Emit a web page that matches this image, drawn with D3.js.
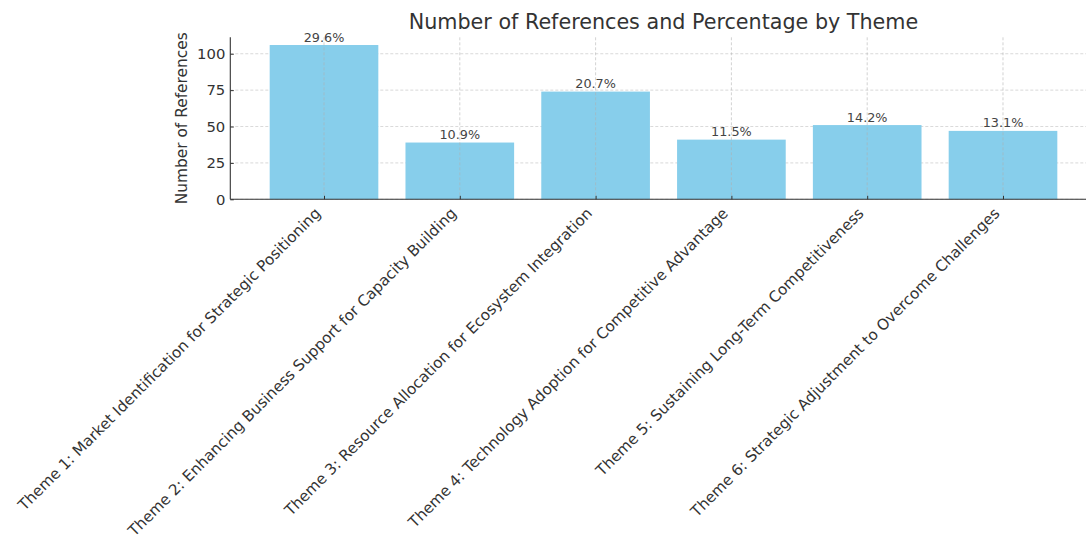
<!DOCTYPE html>
<html>
<head>
<meta charset="utf-8">
<script src="https://cdn.jsdelivr.net/npm/d3@7/dist/d3.min.js"></script>
<style>
  html, body { margin: 0; padding: 0; background: #fff; }
  svg { display: block; font-family: "DejaVu Sans", sans-serif; }
</style>
</head>
<body>
<svg id="chart" width="1086" height="541"></svg>
<script>
// Themes, counts of references, and their share of the total
const themes = [
  "Theme 1: Market Identification for Strategic Positioning",
  "Theme 2: Enhancing Business Support for Capacity Building",
  "Theme 3: Resource Allocation for Ecosystem Integration",
  "Theme 4: Technology Adoption for Competitive Advantage",
  "Theme 5: Sustaining Long-Term Competitiveness",
  "Theme 6: Strategic Adjustment to Overcome Challenges"
];
const references = [106, 39, 74, 41, 51, 47];
const percentLabels = ["29.6%", "10.9%", "20.7%", "11.5%", "14.2%", "13.1%"];
const yTicks = [0, 25, 50, 75, 100];

const svg = d3.select("#chart");
const plotLeft = 230.3, plotRight = 1096.7, plotTop = 37.3, plotBottom = 199.3;

const barWidth = 0.8;
const x = d3.scaleLinear().domain([-0.69, themes.length - 1 + 0.69]).range([plotLeft, plotRight]);
const y = d3.scaleLinear().domain([0, d3.max(references) * 1.05]).range([plotBottom, plotTop]);

// horizontal grid, behind the bars
svg.append("g").selectAll("line").data(yTicks).join("line")
  .attr("x1", plotLeft).attr("x2", plotRight)
  .attr("y1", d => y(d)).attr("y2", d => y(d))
  .attr("stroke", "#cfcfcf").attr("stroke-width", 0.8)
  .attr("stroke-dasharray", "3,2");

// bars
svg.append("g").selectAll("rect").data(references).join("rect")
  .attr("x", (d, i) => x(i - barWidth / 2))
  .attr("width", x(barWidth) - x(0))
  .attr("y", d => y(d))
  .attr("height", d => y(0) - y(d))
  .attr("fill", "#87CEEB");

// vertical grid, over the bars
svg.append("g").selectAll("line").data(themes).join("line")
  .attr("x1", (d, i) => x(i)).attr("x2", (d, i) => x(i))
  .attr("y1", plotTop).attr("y2", plotBottom)
  .attr("stroke", "#b0b0b0").attr("stroke-opacity", 0.7).attr("stroke-width", 0.8)
  .attr("stroke-dasharray", "3,2");

// percentage labels above bars
svg.append("g").selectAll("text").data(references).join("text")
  .attr("x", (d, i) => x(i))
  .attr("y", d => y(d) - 3.5)
  .attr("text-anchor", "middle")
  .attr("font-size", 12.8)
  .attr("fill", "#444")
  .text((d, i) => percentLabels[i]);

// y axis
const yAxis = d3.axisLeft(y).tickValues(yTicks).tickSize(-3.5).tickPadding(5);
const gy = svg.append("g").attr("transform", `translate(${plotLeft},0)`).call(yAxis);
gy.select(".domain").attr("d", `M0,${plotTop}V${plotBottom}`).attr("stroke", "#333").attr("stroke-width", 1.1);
gy.selectAll(".tick line").attr("stroke", "#333");
gy.selectAll(".tick text").attr("font-size", 14.8).attr("fill", "#333")
  .attr("font-family", "DejaVu Sans, sans-serif");

// x axis
const xAxis = d3.axisBottom(x).tickValues(d3.range(themes.length)).tickSize(-3.5).tickFormat("");
const gx = svg.append("g").attr("transform", `translate(0,${plotBottom})`).call(xAxis);
gx.select(".domain").attr("d", `M${plotLeft},0H${plotRight}`).attr("stroke", "#333").attr("stroke-width", 1.1);
gx.selectAll(".tick line").attr("stroke", "#333");

// rotated category labels
svg.append("g").selectAll("text").data(themes).join("text")
  .attr("transform", (d, i) => `translate(${x(i) - 2.5},${plotBottom + 15}) rotate(-45)`)
  .attr("text-anchor", "end")
  .attr("font-size", 15.2)
  .attr("fill", "#333")
  .text(d => d);

// y axis title
svg.append("text")
  .attr("transform", `translate(186.5,${(plotTop + plotBottom) / 2}) rotate(-90)`)
  .attr("text-anchor", "middle")
  .attr("font-size", 15.4)
  .attr("fill", "#333")
  .text("Number of References");

// chart title
svg.append("text")
  .attr("x", (plotLeft + plotRight) / 2)
  .attr("y", 29)
  .attr("text-anchor", "middle")
  .attr("font-size", 20.7)
  .attr("fill", "#333")
  .text("Number of References and Percentage by Theme");
</script>
</body>
</html>
